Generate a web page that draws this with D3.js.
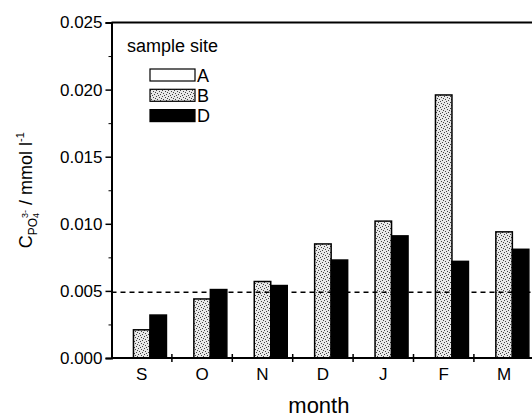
<!DOCTYPE html>
<html>
<head>
<meta charset="utf-8">
<script src="https://cdn.jsdelivr.net/npm/d3@7"></script>
<style>
  html, body { margin: 0; padding: 0; background: #fff; }
  svg { display: block; font-family: "Liberation Sans", Arial, sans-serif; }
</style>
</head>
<body>
<svg id="chart" width="532" height="417"></svg>
<script>
// ---- data ----
const months = ["S", "O", "N", "D", "J", "F", "M"];
const siteA = [null, null, null, null, null, null, null];
const siteB = [0.0021, 0.0044, 0.0057, 0.0085, 0.0102, 0.0196, 0.0094];
const siteD = [0.0032, 0.0051, 0.0054, 0.0073, 0.0091, 0.0072, 0.0081];
const sites = ["A", "B", "D"];
const yTicks = [0, 0.005, 0.010, 0.015, 0.020, 0.025];
const yMinorTicks = [0.0025, 0.0075, 0.0125, 0.0175, 0.0225];
const refLevel = 0.0049;

// ---- layout ----
const plotLeft = 111.5, plotTop = 22.5, plotBottom = 358, step = 60.4;
const plotRight = plotLeft + step * months.length;

const svg = d3.select("#chart");
const defs = svg.append("defs");
const pat = defs.append("pattern")
  .attr("id", "stipple").attr("patternUnits", "userSpaceOnUse")
  .attr("width", 6).attr("height", 6);
pat.append("rect").attr("width", 6).attr("height", 6).attr("fill", "#e8e8e8");
[[0,0],[3,1],[1,3],[4,4],[2,5],[5,2]].forEach(([px, py]) =>
  pat.append("rect").attr("x", px).attr("y", py).attr("width", 1).attr("height", 1).attr("fill", "#444"));

const x = d3.scaleBand().domain(months).range([plotLeft, plotRight]).paddingInner(0).paddingOuter(0);
const xs = d3.scaleBand().domain(sites).range([0, 49.5]);
const groupOffset = (step - 49.5) / 2;
const y = d3.scaleLinear().domain([0, 0.025]).range([plotBottom, plotTop]);

const fills = { A: "#ffffff", B: "url(#stipple)", D: "#000000" };
const series = { A: siteA, B: siteB, D: siteD };

// bars
sites.forEach(s => {
  svg.append("g").selectAll("rect")
    .data(months.map((m, i) => ({ m, v: series[s][i] })).filter(d => d.v != null))
    .join("rect")
    .attr("x", d => x(d.m) + groupOffset + xs(s))
    .attr("y", d => y(d.v))
    .attr("width", xs.bandwidth())
    .attr("height", d => y(0) - y(d.v))
    .attr("fill", fills[s])
    .attr("stroke", "#000")
    .attr("stroke-width", 1.5);
});

// dashed reference line
svg.append("line")
  .attr("x1", plotLeft).attr("x2", 532)
  .attr("y1", y(refLevel)).attr("y2", y(refLevel))
  .attr("stroke", "#000").attr("stroke-width", 1.5)
  .attr("stroke-dasharray", "5,4");

// top frame line
svg.append("line")
  .attr("x1", plotLeft).attr("x2", 532).attr("y1", plotTop).attr("y2", plotTop)
  .attr("stroke", "#000").attr("stroke-width", 2);

// y axis
const yAxis = svg.append("g").attr("transform", `translate(${plotLeft},0)`)
  .call(d3.axisLeft(y).tickValues(yTicks).tickFormat(d3.format(".3f")).tickSize(6).tickPadding(3));
yAxis.select(".domain").attr("stroke-width", 2);
yAxis.selectAll(".tick line").attr("stroke-width", 1.5);
yAxis.selectAll(".tick text").attr("font-size", 17).attr("font-family", "Liberation Sans, Arial, sans-serif").attr("fill", "#000");
svg.append("g").attr("transform", `translate(${plotLeft},0)`)
  .call(d3.axisLeft(y).tickValues(yMinorTicks).tickFormat("").tickSize(3))
  .call(g => g.select(".domain").remove());

// x axis (labels at month centres)
const xAxis = svg.append("g").attr("transform", `translate(0,${plotBottom})`)
  .call(d3.axisBottom(x).tickSize(0).tickPadding(10));
xAxis.select(".domain").attr("stroke-width", 2).attr("d", `M${plotLeft},0H532`);
xAxis.selectAll(".tick text").attr("font-size", 17).attr("font-family", "Liberation Sans, Arial, sans-serif").attr("fill", "#000");

// boundary ticks between months, crossing the axis
svg.append("g").selectAll("line")
  .data(months.slice(1))
  .join("line")
  .attr("x1", d => x(d)).attr("x2", d => x(d))
  .attr("y1", plotBottom - 4).attr("y2", plotBottom + 4)
  .attr("stroke", "#000").attr("stroke-width", 1.5);

// axis titles
svg.append("text")
  .attr("x", (plotLeft + plotRight) / 2 - 4).attr("y", 413)
  .attr("text-anchor", "middle").attr("font-size", 22)
  .text("month");

const yt = svg.append("text")
  .attr("transform", `translate(32,${(plotTop + plotBottom) / 2}) rotate(-90)`)
  .attr("text-anchor", "middle").attr("font-size", 18);
yt.append("tspan").text("C");
yt.append("tspan").attr("font-size", 12).attr("dy", 5).text("PO");
yt.append("tspan").attr("font-size", 9).attr("dy", 2).text("4");
yt.append("tspan").attr("font-size", 9).attr("dx", -5).attr("dy", -11).text("3-");
yt.append("tspan").attr("dy", 4).text(" / mmol l");
yt.append("tspan").attr("font-size", 11).attr("dy", -8).text("-1");

// legend
const lg = svg.append("g");
lg.append("text").attr("x", 127).attr("y", 52).attr("font-size", 18).text("sample site");
sites.forEach((s, i) => {
  lg.append("rect")
    .attr("x", 150).attr("y", 69 + i * 20.3)
    .attr("width", 45).attr("height", 12)
    .attr("fill", fills[s]).attr("stroke", "#000").attr("stroke-width", 1.2);
  lg.append("text")
    .attr("x", 197).attr("y", 81.5 + i * 20.3)
    .attr("font-size", 18).text(s);
});
</script>
</body>
</html>
